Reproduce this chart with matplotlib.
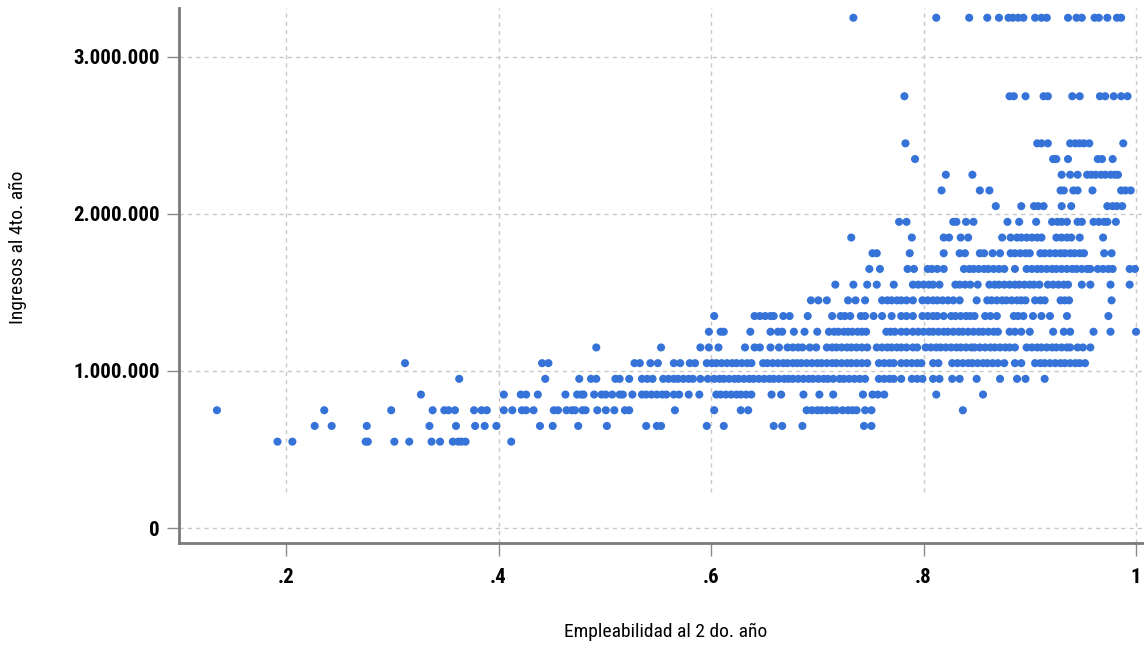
import matplotlib
matplotlib.use("Agg")
import matplotlib.pyplot as plt
from matplotlib.ticker import FuncFormatter
from matplotlib import font_manager

# employability (x) of each program, grouped by income level (y)
x_550 = [0.192, 0.206, 0.275, 0.277, 0.302, 0.316, 0.337, 0.345, 0.357, 0.362, 0.365, 0.369, 0.412]
x_650 = [0.227, 0.243, 0.276, 0.335, 0.360, 0.378, 0.387, 0.398, 0.439, 0.451, 0.475, 0.502,
         0.539, 0.549, 0.553, 0.596, 0.612, 0.659, 0.667, 0.686, 0.744, 0.751]
x_750 = [0.135, 0.236, 0.299, 0.338, 0.349, 0.353, 0.359, 0.377, 0.384, 0.389, 0.405, 0.413,
         0.422, 0.426, 0.433, 0.452, 0.456, 0.464, 0.469, 0.472, 0.479, 0.482, 0.493, 0.501,
         0.509, 0.519, 0.523, 0.566, 0.603, 0.628, 0.635, 0.690, 0.695, 0.700, 0.704, 0.709,
         0.714, 0.718, 0.724, 0.729, 0.733, 0.737, 0.745, 0.751, 0.837]
x_850 = [0.327, 0.405, 0.421, 0.426, 0.437, 0.463, 0.474, 0.478, 0.480, 0.490, 0.497, 0.501,
         0.507, 0.514, 0.517, 0.526, 0.535, 0.539, 0.544, 0.549, 0.554, 0.558, 0.565, 0.570,
         0.579, 0.589, 0.605, 0.609, 0.614, 0.619, 0.624, 0.628, 0.633, 0.638, 0.657, 0.666,
         0.687, 0.702, 0.715, 0.743, 0.752, 0.757, 0.763, 0.812, 0.856]
x_950 = [0.363, 0.444, 0.476, 0.487, 0.492, 0.510, 0.514, 0.523, 0.535, 0.540, 0.545, 0.555,
         0.560, 0.565, 0.569, 0.574, 0.579, 0.583, 0.590, 0.597, 0.603, 0.608, 0.612, 0.617,
         0.622, 0.626, 0.631, 0.636, 0.640, 0.645, 0.650, 0.655, 0.659, 0.664, 0.669, 0.673,
         0.677, 0.682, 0.687, 0.692, 0.696, 0.701, 0.706, 0.710, 0.715, 0.721, 0.725, 0.730,
         0.735, 0.740, 0.745, 0.758, 0.763, 0.768, 0.772, 0.779, 0.789, 0.794, 0.799, 0.809,
         0.815, 0.827, 0.834, 0.850, 0.872, 0.888, 0.896, 0.914]
x_1050 = [0.312, 0.441, 0.447, 0.528, 0.533, 0.543, 0.550, 0.565, 0.571, 0.580, 0.585, 0.596,
          0.601, 0.605, 0.610, 0.615, 0.620, 0.624, 0.629, 0.634, 0.638, 0.649, 0.653, 0.658,
          0.663, 0.668, 0.672, 0.677, 0.681, 0.685, 0.690, 0.695, 0.700, 0.704, 0.709, 0.714,
          0.718, 0.723, 0.728, 0.732, 0.737, 0.742, 0.747, 0.758, 0.763, 0.768, 0.772, 0.779,
          0.784, 0.789, 0.794, 0.798, 0.809, 0.814, 0.827, 0.832, 0.837, 0.842, 0.846, 0.851,
          0.856, 0.860, 0.865, 0.870, 0.876, 0.886, 0.892, 0.905, 0.910, 0.914, 0.919, 0.924,
          0.929, 0.933, 0.938, 0.943, 0.947, 0.952]
x_1150 = [0.492, 0.553, 0.590, 0.598, 0.607, 0.632, 0.641, 0.646, 0.656, 0.664, 0.672, 0.677,
          0.682, 0.686, 0.693, 0.699, 0.709, 0.714, 0.718, 0.723, 0.728, 0.732, 0.737, 0.742,
          0.747, 0.756, 0.761, 0.766, 0.770, 0.775, 0.779, 0.784, 0.790, 0.794, 0.802, 0.807,
          0.812, 0.816, 0.821, 0.826, 0.831, 0.835, 0.840, 0.845, 0.848, 0.853, 0.858, 0.863,
          0.867, 0.872, 0.877, 0.881, 0.886, 0.897, 0.902, 0.907, 0.911, 0.916, 0.921, 0.925,
          0.930, 0.935, 0.938, 0.945, 0.950, 0.957]
x_1250 = [0.598, 0.609, 0.612, 0.637, 0.656, 0.663, 0.667, 0.678, 0.688, 0.700, 0.711, 0.716,
          0.720, 0.725, 0.729, 0.733, 0.738, 0.742, 0.746, 0.765, 0.769, 0.773, 0.779, 0.784,
          0.790, 0.795, 0.800, 0.805, 0.809, 0.814, 0.819, 0.823, 0.828, 0.833, 0.837, 0.842,
          0.847, 0.852, 0.856, 0.861, 0.866, 0.870, 0.881, 0.886, 0.892, 0.900, 0.922, 0.932,
          0.938, 0.960, 0.976, 1.000]
x_1350 = [0.603, 0.641, 0.646, 0.651, 0.656, 0.659, 0.668, 0.674, 0.691, 0.714, 0.722, 0.726,
          0.731, 0.741, 0.745, 0.753, 0.761, 0.770, 0.779, 0.784, 0.790, 0.799, 0.804, 0.809,
          0.813, 0.819, 0.826, 0.830, 0.835, 0.840, 0.844, 0.848, 0.858, 0.863, 0.869, 0.885,
          0.889, 0.894, 0.903, 0.911, 0.919, 0.935, 0.974]
x_1450 = [0.694, 0.701, 0.709, 0.729, 0.736, 0.745, 0.761, 0.766, 0.770, 0.775, 0.779, 0.784,
          0.790, 0.799, 0.804, 0.809, 0.813, 0.818, 0.823, 0.828, 0.834, 0.850, 0.860, 0.864,
          0.869, 0.874, 0.878, 0.883, 0.888, 0.892, 0.896, 0.905, 0.910, 0.914, 0.929, 0.933,
          0.937, 0.977]
x_1550 = [0.717, 0.734, 0.747, 0.756, 0.772, 0.790, 0.795, 0.800, 0.805, 0.809, 0.815, 0.830,
          0.834, 0.839, 0.844, 0.851, 0.862, 0.867, 0.871, 0.876, 0.881, 0.886, 0.890, 0.895,
          0.900, 0.904, 0.909, 0.917, 0.922, 0.927, 0.932, 0.936, 0.949, 0.957, 0.976, 0.994]
x_1650 = [0.749, 0.759, 0.785, 0.791, 0.804, 0.808, 0.813, 0.819, 0.838, 0.843, 0.847, 0.852,
          0.857, 0.861, 0.866, 0.871, 0.876, 0.886, 0.897, 0.902, 0.907, 0.911, 0.916, 0.921,
          0.925, 0.930, 0.935, 0.940, 0.944, 0.949, 0.954, 0.957, 0.964, 0.969, 0.974, 0.978,
          0.994, 0.999]
x_1750 = [0.752, 0.756, 0.787, 0.819, 0.834, 0.839, 0.853, 0.857, 0.865, 0.872, 0.882, 0.886,
          0.891, 0.896, 0.900, 0.910, 0.914, 0.919, 0.924, 0.929, 0.933, 0.938, 0.942, 0.947,
          0.951, 0.970, 0.977]
x_1850 = [0.732, 0.789, 0.819, 0.824, 0.835, 0.842, 0.874, 0.882, 0.888, 0.892, 0.897, 0.902,
          0.907, 0.911, 0.925, 0.930, 0.935, 0.939, 0.947, 0.969]
x_1950 = [0.777, 0.784, 0.828, 0.831, 0.840, 0.847, 0.879, 0.890, 0.906, 0.921, 0.926, 0.930,
          0.935, 0.945, 0.949, 0.960, 0.965, 0.970, 0.973, 0.981]
x_2050 = [0.868, 0.892, 0.904, 0.908, 0.913, 0.930, 0.939, 0.973, 0.978, 0.982, 0.987]
x_2150 = [0.817, 0.853, 0.862, 0.929, 0.932, 0.941, 0.945, 0.959, 0.986, 0.990, 0.995]
x_2250 = [0.821, 0.846, 0.930, 0.938, 0.945, 0.954, 0.958, 0.962, 0.967, 0.971, 0.976, 0.980, 0.983]
x_2350 = [0.792, 0.922, 0.925, 0.936, 0.964, 0.968, 0.978]
x_2450 = [0.783, 0.907, 0.911, 0.917, 0.938, 0.943, 0.947, 0.951, 0.956, 0.988]
x_2750 = [0.782, 0.881, 0.885, 0.896, 0.913, 0.917, 0.940, 0.947, 0.966, 0.971, 0.979, 0.986, 0.992]
x_3250 = [0.734, 0.812, 0.843, 0.860, 0.871, 0.880, 0.884, 0.889, 0.894, 0.905, 0.911, 0.916,
          0.936, 0.944, 0.949, 0.961, 0.965, 0.973, 0.982, 0.986]

income_levels = [550000, 650000, 750000, 850000, 950000, 1050000, 1150000, 1250000, 1350000,
                 1450000, 1550000, 1650000, 1750000, 1850000, 1950000, 2050000, 2150000,
                 2250000, 2350000, 2450000, 2750000, 3250000]
rows = [x_550, x_650, x_750, x_850, x_950, x_1050, x_1150, x_1250, x_1350, x_1450, x_1550,
        x_1650, x_1750, x_1850, x_1950, x_2050, x_2150, x_2250, x_2350, x_2450, x_2750, x_3250]

xticks = [0.2, 0.4, 0.6, 0.8, 1.0]
xtick_labels = [".2", ".4", ".6", ".8", "1"]
yticks = [0, 1000000, 2000000, 3000000]

xs, ys = [], []
for level, row in zip(income_levels, rows):
    xs += row
    ys += [level] * len(row)

# pick a narrow face if one is installed, else squeeze DejaVu
names = {f.name for f in font_manager.fontManager.ttflist}
narrow = [n for n in ['Roboto Condensed', 'Liberation Sans Narrow', 'Open Sans Condensed',
                      'DejaVu Sans Condensed'] if n in names]
plt.rcParams['font.family'] = narrow + ['DejaVu Sans']
plt.rcParams['font.stretch'] = 'condensed'

fig = plt.figure(figsize=(11.44, 6.48), dpi=100)
ax = fig.add_axes([179 / 1144, 105 / 648, 965 / 1144, 535 / 648])

ax.set_xlim(0.0993, 1.0075)
ax.set_ylim(-95500, 3312000)

grid_kw = dict(color='#c8c8c8', lw=1, ls=(0, (3, 3)), zorder=0)
for y in yticks:
    ax.axhline(y, **grid_kw)
for x in xticks:
    lo = -95500 if x in (0.4, 1.0) else 229000
    ax.vlines(x, lo, 3312000, **grid_kw)

ax.scatter(xs, ys, s=34, color='#3573d8', edgecolors='none', zorder=3)

for side in ['top', 'right']:
    ax.spines[side].set_visible(False)
for side in ['left', 'bottom']:
    ax.spines[side].set_color('#7a7a7a')
    ax.spines[side].set_linewidth(2)

ax.set_xticks(xticks)
ax.set_xticklabels(xtick_labels)
ax.set_yticks(yticks)
ax.yaxis.set_major_formatter(FuncFormatter(lambda v, p: f"{int(v):,}".replace(",", ".")))
ax.tick_params(axis='both', direction='out', length=9, width=1, color='#8a8a8a',
               labelsize=15)
ax.tick_params(axis='x', pad=9)
ax.tick_params(axis='y', pad=5)
for lab in ax.get_xticklabels() + ax.get_yticklabels():
    lab.set_fontweight('bold')

fig.text(18 / 1144, 1 - 247 / 648, "Ingresos al 4to. año", rotation=90,
         ha='center', va='center', fontsize=14)
fig.text(666 / 1144, 1 - 632 / 648, "Empleabilidad al 2 do. año",
         ha='center', va='center', fontsize=14)

fig.savefig("out.png", dpi=100)
